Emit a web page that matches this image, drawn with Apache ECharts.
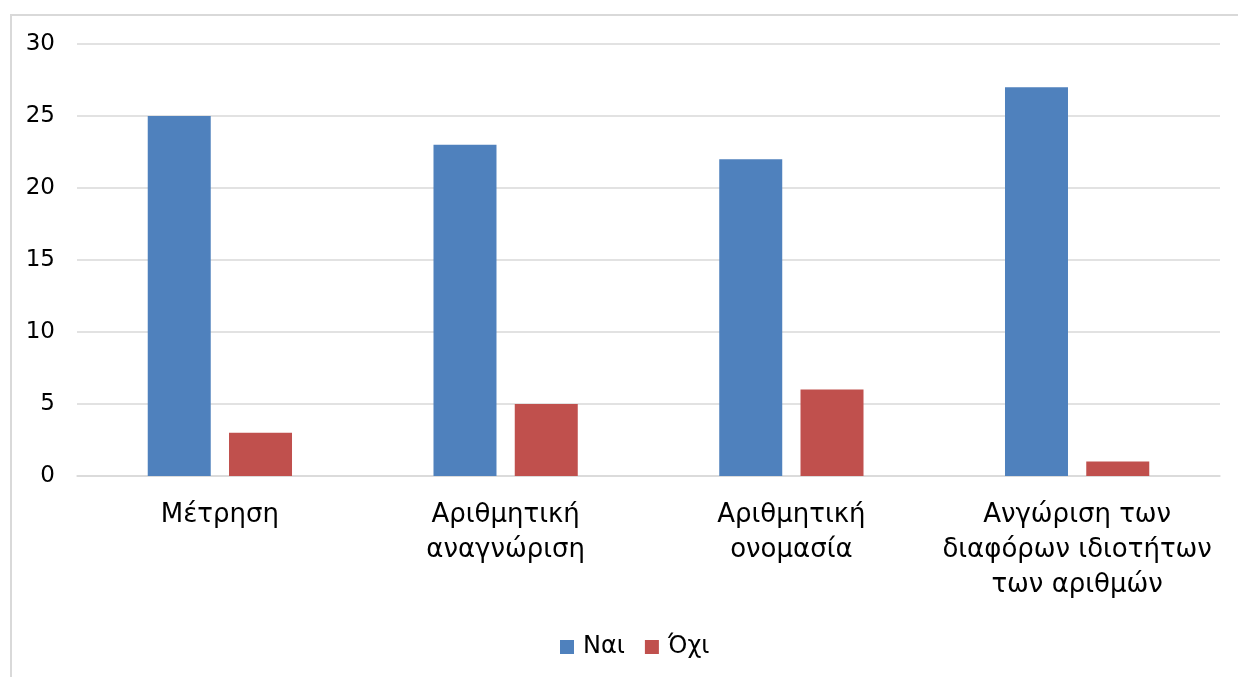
<!DOCTYPE html>
<html>
<head>
<meta charset="utf-8">
<script src="https://cdn.jsdelivr.net/npm/echarts@6/dist/echarts.min.js"></script>
<style>
  html, body { margin: 0; padding: 0; background: #fff; overflow: hidden; }
  #wrap { position: relative; width: 1238px; height: 677px; overflow: hidden; }
  #frame {
    position: absolute; left: 10px; top: 14px; width: 1400px; height: 800px;
    border-left: 2px solid #d9d9d9; border-top: 2px solid #d9d9d9;
  }
  #chart { position: absolute; left: 0; top: 0; width: 1238px; height: 677px; }
</style>
</head>
<body>
<div id="wrap">
  <div id="frame"></div>
  <div id="chart"></div>
</div>
<script>
// Skill areas and counts of answers
const categories = [
  'Μέτρηση',
  'Αριθμητική\nαναγνώριση',
  'Αριθμητική\nονομασία',
  'Ανγώριση των\nδιαφόρων ιδιοτήτων\nτων αριθμών'
];
const seriesNames = ['Ναι', 'Όχι'];
const yesValues = [25, 23, 22, 27];
const noValues = [3, 5, 6, 1];

const fontFamily = '"DejaVu Sans", "Noto Sans", sans-serif';
const chart = echarts.init(document.getElementById('chart'));

chart.setOption({
  animation: false,
  color: ['#4F81BD', '#C0504D'],
  grid: { left: 77, right: 18, top: 44, bottom: 201, containLabel: false },
  legend: {
    data: seriesNames,
    top: 630,
    left: 555,
    icon: 'rect',
    itemWidth: 14,
    itemHeight: 14,
    itemGap: 20,
    textStyle: { fontFamily, fontSize: 24, color: '#000', padding: [0, 0, 0, 4] }
  },
  xAxis: {
    type: 'category',
    data: categories,
    axisLine: { show: true, lineStyle: { color: '#d9d9d9', width: 1.5 } },
    axisTick: { show: false },
    axisLabel: {
      interval: 0,
      fontFamily,
      fontSize: 26,
      lineHeight: 35,
      color: '#000',
      margin: 22
    }
  },
  yAxis: {
    type: 'value',
    min: 0,
    max: 30,
    interval: 5,
    axisLine: { show: false },
    axisTick: { show: false },
    splitLine: { lineStyle: { color: '#d9d9d9', width: 1.5 } },
    axisLabel: { fontFamily, fontSize: 23, color: '#000', margin: 22 }
  },
  series: [
    {
      name: seriesNames[0],
      type: 'bar',
      data: yesValues,
      barWidth: 63,
      barGap: '29%'
    },
    {
      name: seriesNames[1],
      type: 'bar',
      data: noValues,
      barWidth: 63,
      barGap: '29%'
    }
  ]
});
</script>
</body>
</html>
